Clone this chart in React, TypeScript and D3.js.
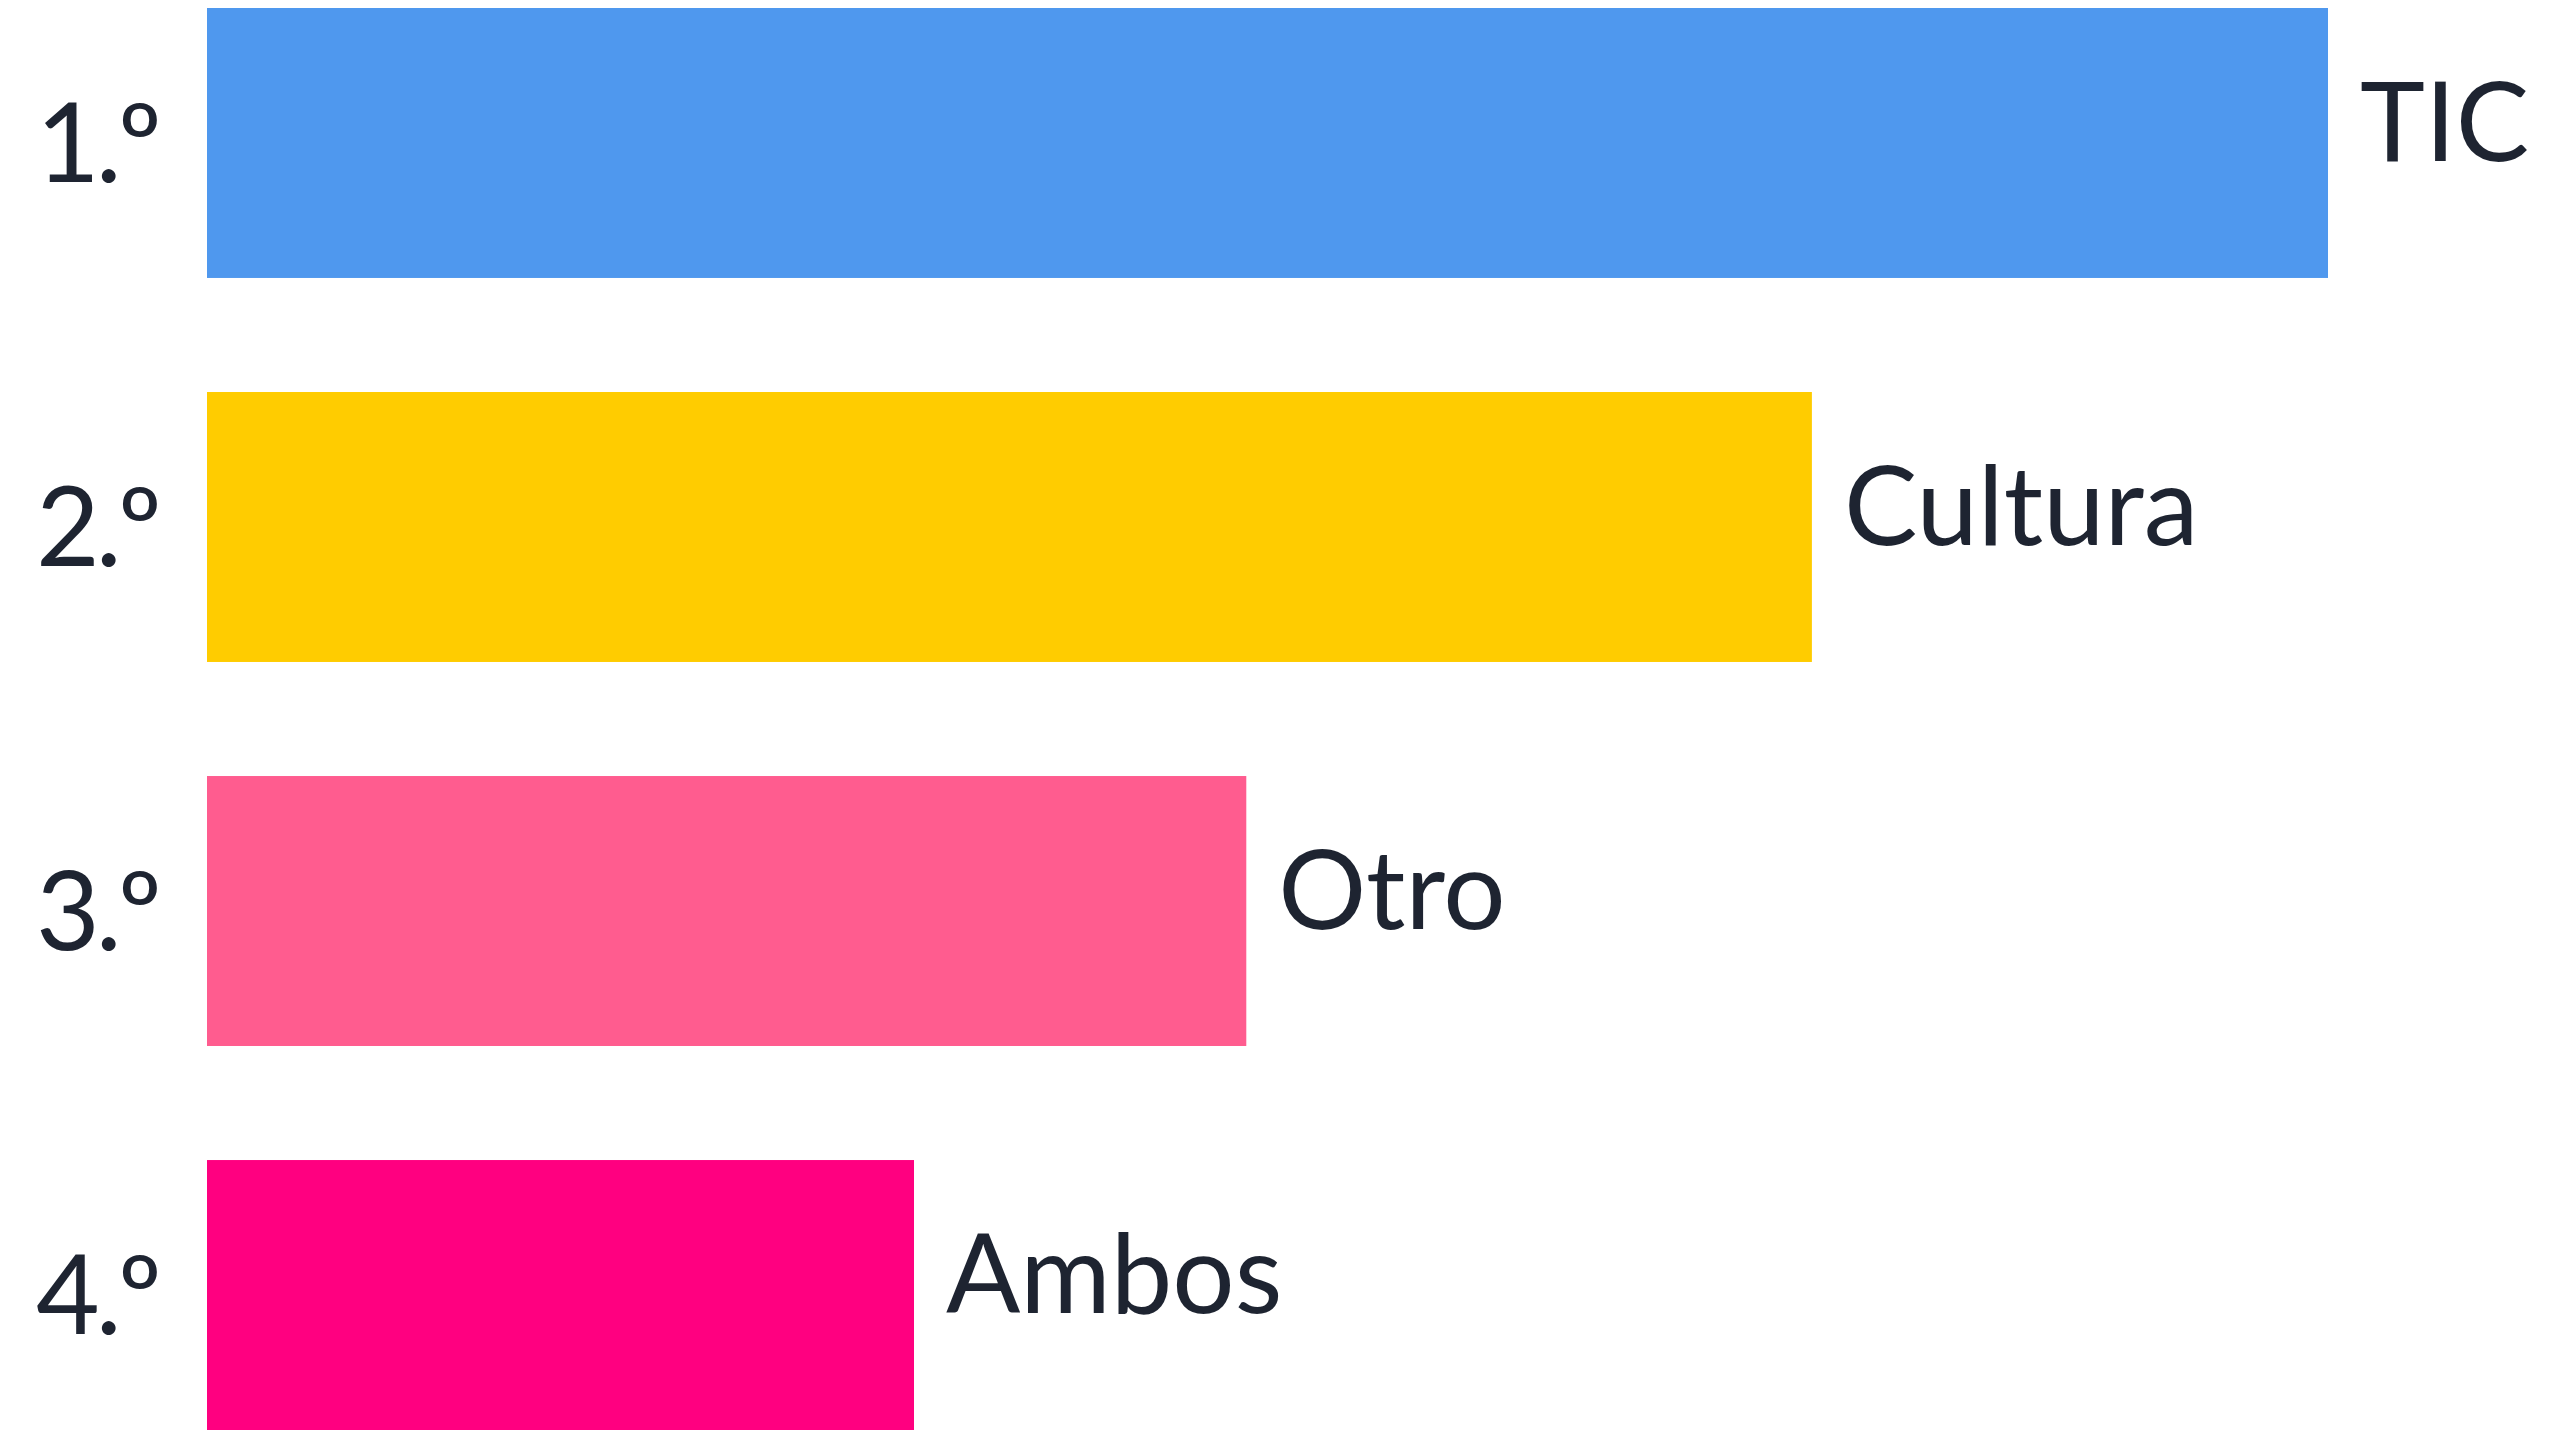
import React from "react";
import * as d3 from "d3";

const ranks = ["1.º", "2.º", "3.º", "4.º"];
const categories = ["TIC", "Cultura", "Otro", "Ambos"];
const values = [60, 45.4, 29.4, 20];
const colors = ["#4F98EE", "#FFCC00", "#FF5C8F", "#FF0080"];

const W = 2561;
const H = 1441;

export default function App() {
  const x = d3.scaleLinear().domain([0, 60]).range([207, 2328]);
  const y = d3
    .scaleBand<string>()
    .domain(categories)
    .range([8, 1430])
    .paddingInner(0.297)
    .paddingOuter(0);
  const bw = y.bandwidth();
  const font = "Lato, 'Noto Sans', sans-serif";
  const ink = "#1E2431";
  return (
    <svg
      width={W}
      height={H}
      style={{ position: "absolute", left: 0, top: 0, background: "#fff" }}
    >
      {categories.map((c, i) => {
        const y0 = y(c) as number;
        const cy = y0 + bw / 2;
        return (
          <g key={c}>
            <rect
              x={x(0)}
              y={y0}
              width={x(values[i]) - x(0)}
              height={bw}
              fill={colors[i]}
            />
            <text
              x={x(values[i]) + 32}
              y={cy + 18}
              fontFamily={font}
              fontSize={110}
              fill={ink}
            >
              {c}
            </text>
            <text
              x={158}
              y={cy + 39}
              textAnchor="end"
              fontFamily={font}
              fontSize={110}
              fill={ink}
              letterSpacing={-4}
            >
              {ranks[i]}
            </text>
          </g>
        );
      })}
    </svg>
  );
}
